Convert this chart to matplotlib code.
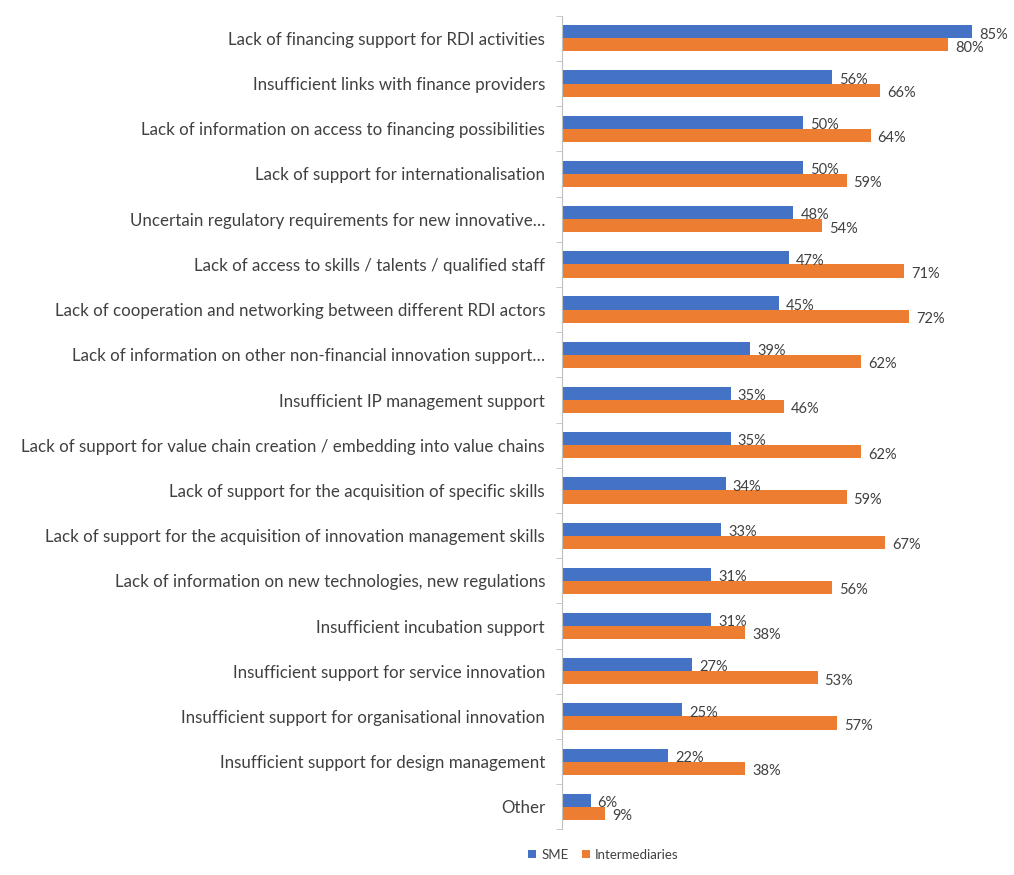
import matplotlib
matplotlib.use("Agg")
import matplotlib.pyplot as plt
import numpy as np

plt.rcParams['font.family'] = ['Lato', 'DejaVu Sans']

# barriers, top to bottom
categories = [
    "Lack of financing support for RDI activities",
    "Insufficient links with finance providers",
    "Lack of information on access to financing possibilities",
    "Lack of support for internationalisation",
    "Uncertain regulatory requirements for new innovative…",
    "Lack of access to skills / talents / qualified staff",
    "Lack of cooperation and networking between different RDI actors",
    "Lack of information on other non-financial innovation support…",
    "Insufficient IP management support",
    "Lack of support for value chain creation / embedding into value chains",
    "Lack of support for the acquisition of specific skills",
    "Lack of support for the acquisition of innovation management skills",
    "Lack of information on new technologies, new regulations",
    "Insufficient incubation support",
    "Insufficient support for service innovation",
    "Insufficient support for organisational innovation",
    "Insufficient support for design management",
    "Other",
]
sme = [85, 56, 50, 50, 48, 47, 45, 39, 35, 35, 34, 33, 31, 31, 27, 25, 22, 6]
intermediaries = [80, 66, 64, 59, 54, 71, 72, 62, 46, 62, 59, 67, 56, 38, 53, 57, 38, 9]

blue = '#4472C4'
orange = '#ED7D31'
text_col = '#404040'

fig = plt.figure(figsize=(10.14, 8.75), dpi=100)
ax = fig.add_axes([0.554, 0.052, 0.426, 0.930])

n = len(categories)
y = np.arange(n)
h = 0.29
b1 = ax.barh(y - h / 2, sme, height=h, color=blue, label='SME')
b2 = ax.barh(y + h / 2, intermediaries, height=h, color=orange, label='Intermediaries')

for bars, vals in ((b1, sme), (b2, intermediaries)):
    for bar, v in zip(bars, vals):
        ax.annotate(f"{v}%", (bar.get_width(), bar.get_y() + bar.get_height() / 2),
                    xytext=(5, -2), textcoords='offset points', va='center', ha='left',
                    fontsize=10.5, color=text_col)

ax.set_ylim(n - 0.5, -0.5)
ax.set_xlim(0, 89.5)
ax.set_yticks(y)
ax.set_yticklabels(categories, fontsize=12.2, color=text_col)
ax.tick_params(axis='y', which='major', length=0, pad=12)
ax.set_yticks(np.arange(n + 1) - 0.5, minor=True)
ax.tick_params(axis='y', which='minor', length=4, color='#bfbfbf')
ax.set_xticks([])
for s in ('top', 'right', 'bottom'):
    ax.spines[s].set_visible(False)
ax.spines['left'].set_color('#bfbfbf')

fig.legend(handles=[b1, b2], loc='center', bbox_to_anchor=(0.595, 0.023), ncol=2,
           frameon=False, fontsize=9.5, handlelength=0.6, handleheight=0.6,
           columnspacing=1.0, handletextpad=0.4, labelcolor=text_col)

fig.savefig('out.png', dpi=100, facecolor='white')
